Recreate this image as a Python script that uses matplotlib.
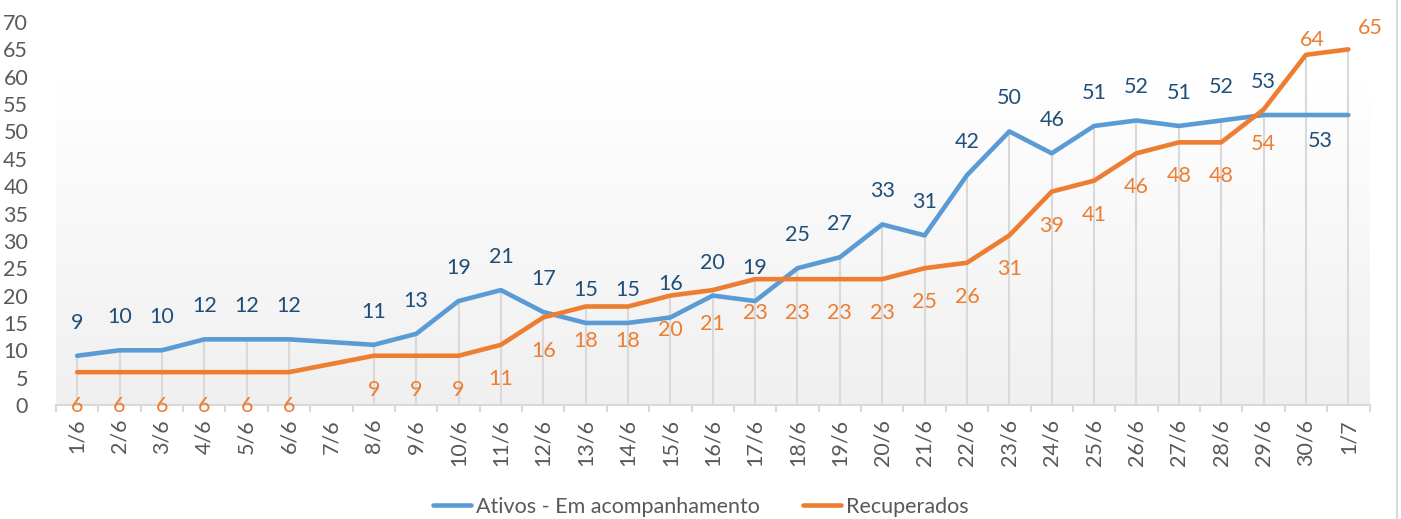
import numpy as np
import matplotlib
matplotlib.use("Agg")
import matplotlib.pyplot as plt
from matplotlib.lines import Line2D

plt.rcParams['font.family'] = ['Lato', 'DejaVu Sans']

categories = ["1/6", "2/6", "3/6", "4/6", "5/6", "6/6", "7/6", "8/6", "9/6", "10/6",
              "11/6", "12/6", "13/6", "14/6", "15/6", "16/6", "17/6", "18/6", "19/6", "20/6",
              "21/6", "22/6", "23/6", "24/6", "25/6", "26/6", "27/6", "28/6", "29/6", "30/6", "1/7"]
ativos = [9, 10, 10, 12, 12, 12, np.nan, 11, 13, 19,
          21, 17, 15, 15, 16, 20, 19, 25, 27, 33,
          31, 42, 50, 46, 51, 52, 51, 52, 53, 53, 53]
recuperados = [6, 6, 6, 6, 6, 6, np.nan, 9, 9, 9,
               11, 16, 18, 18, 20, 21, 23, 23, 23, 23,
               25, 26, 31, 39, 41, 46, 48, 48, 54, 64, 65]
series_names = ["Ativos - Em acompanhamento", "Recuperados"]
yticks = list(range(0, 75, 5))

blue = "#5B9BD5"
orange = "#ED7D31"
blue_lbl = "#1F4E79"
grey_txt = "#595959"
grid_c = "#D9D9D9"

W, H = 1401, 519
fig = plt.figure(figsize=(W / 100, H / 100), dpi=100)
ax = fig.add_axes([56 / W, (H - 405) / H, (1369.5 - 56) / W, 383 / H])

x = np.arange(len(categories))
a = np.array(ativos, dtype=float)
r = np.array(recuperados, dtype=float)

ax.set_xlim(-0.5, len(categories) - 0.5)
ax.set_ylim(0, 70)

# gradient background (white at top -> light grey at bottom)
grad = np.linspace(0, 1, 256).reshape(-1, 1)
top = np.array([1.0, 1.0, 1.0])
bot = np.array([0.94, 0.94, 0.94])
t = np.clip((grad - 0.15) / 0.85, 0, 1)
img = top * (1 - t) + bot * t
img = img.reshape(256, 1, 3)
ax.imshow(img, extent=[-0.5, len(categories) - 0.5, 0, 70], aspect='auto',
          origin='upper', zorder=0)

# drop lines
mask = ~np.isnan(a)
tops = np.fmax(a, r)
ax.vlines(x[mask], 0, tops[mask], colors=grid_c, linewidth=1.5, zorder=1)

ax.plot(x[mask], a[mask], color=blue, linewidth=3.3, solid_capstyle='round',
        solid_joinstyle='round', zorder=3)
ax.plot(x[mask], r[mask], color=orange, linewidth=3.3, solid_capstyle='round',
        solid_joinstyle='round', zorder=3)

fs = 15.5
for i in range(len(categories)):
    if np.isnan(a[i]):
        continue
    if i == len(categories) - 1:
        pass
    elif i == len(categories) - 2:
        ax.annotate(f"{int(a[i])}", (x[i], a[i]), xytext=(14, -26), textcoords='offset pixels',
                    ha='center', va='center', color=blue_lbl, fontsize=fs, zorder=4)
    else:
        ax.annotate(f"{int(a[i])}", (x[i], a[i]), xytext=(0, 33), textcoords='offset pixels',
                    ha='center', va='center', color=blue_lbl, fontsize=fs, zorder=4)
    if i == len(categories) - 1:
        off = (22, 21)
    elif i == len(categories) - 2:
        off = (6, 15)
    else:
        off = (0, -34)
    ax.annotate(f"{int(r[i])}", (x[i], r[i]), xytext=off, textcoords='offset pixels',
                ha='center', va='center', color=orange, fontsize=fs, zorder=4)

for s in ['top', 'right', 'left']:
    ax.spines[s].set_visible(False)
ax.spines['bottom'].set_color(grid_c)
ax.spines['bottom'].set_linewidth(1.5)
ax.spines['bottom'].set_zorder(2)

ax.set_xticks(x)
ax.set_xticklabels(categories, rotation=90, color=grey_txt, fontsize=fs)
ax.tick_params(axis='x', which='major', length=0, pad=10)
ax.set_xticks(np.arange(-0.5, len(categories)), minor=True)
ax.tick_params(axis='x', which='minor', length=5, width=1.5, color=grid_c, direction='out')

ax.set_yticks(yticks)
ax.set_yticklabels([str(v) for v in yticks], color=grey_txt, fontsize=fs)
ax.tick_params(axis='y', length=0, pad=20)

handles = [Line2D([0], [0], color=blue, linewidth=3.3, solid_capstyle='round'),
           Line2D([0], [0], color=orange, linewidth=3.3, solid_capstyle='round')]
leg = fig.legend(handles, series_names, loc='center', bbox_to_anchor=(0.5, (H - 507) / H),
                 ncol=2, frameon=False, fontsize=fs, handlelength=1.8, handletextpad=0.2,
                 columnspacing=2.0)
for txt in leg.get_texts():
    txt.set_color(grey_txt)

fig.add_artist(Line2D([1397 / W, 1397 / W], [0, 1], color=grid_c, linewidth=1.5,
                      transform=fig.transFigure))

fig.savefig("out.png", dpi=100)
